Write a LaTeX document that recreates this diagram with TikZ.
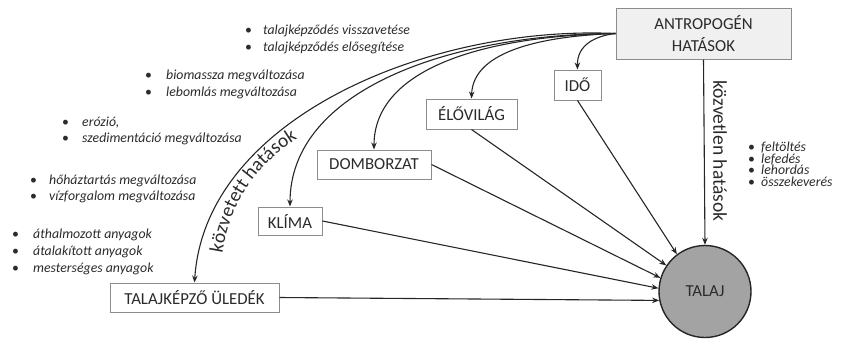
\documentclass[tikz,border=0pt]{standalone}
\usepackage{fontspec}
\setmainfont{Carlito}
\usetikzlibrary{arrows.meta,decorations.text}
\definecolor{txt}{HTML}{2B2B2B}
\definecolor{boxline}{HTML}{8C8C8C}
\definecolor{antrfill}{HTML}{F0F0F0}
\definecolor{talajfill}{HTML}{A3A3A3}
\newcommand\bitem[2][19pt]{\makebox[#1][l]{•}\textit{#2}}
\begin{document}
\begin{tikzpicture}[x=1pt,y=-1pt,
  box/.style={draw=boxline, line width=1pt, fill=white, inner sep=0pt,
    font=\fontsize{16.8}{22}\selectfont, text=txt, align=center},
  arr/.style={draw=black!85, line width=1.1pt, -{Stealth[length=7pt,width=5.5pt]}},
  lst/.style={anchor=base west, inner sep=0pt, text=txt, font=\fontsize{13.8}{15}\selectfont},
  biglabel/.style={inner sep=0pt, text=txt, font=\fontsize{19.5}{22}\selectfont}]
\useasboundingbox (0,0) rectangle (841,338);
% nodes
\node[box, fill=antrfill, minimum width=175pt, minimum height=51pt] (antr) at (703.5,33.5) {ANTROPOGÉN\\HATÁSOK};
\node[box, minimum width=47pt, minimum height=30pt] (ido) at (577.5,85) {IDŐ};
\node[box, minimum width=91pt, minimum height=30pt] (elo) at (471.5,114) {ÉLŐVILÁG};
\node[box, minimum width=114pt, minimum height=29pt] (dom) at (374,164.5) {DOMBORZAT};
\node[box, minimum width=64pt, minimum height=28pt] (klima) at (290,221) {KLÍMA};
\node[box, minimum width=169pt, minimum height=29pt] (uled) at (194.5,297.5) {TALAJKÉPZŐ ÜLEDÉK};
\node[circle, draw=black!85, line width=1.4pt, fill=talajfill, minimum size=92pt, inner sep=0pt,
  font=\fontsize{16.8}{20}\selectfont, text=txt] (talaj) at (705,291.5) {TALAJ};
% curved indirect arrows
\draw[arr] (antr.west) .. controls (595,36) and (577,45) .. (ido.north);
\draw[arr] (antr.west) .. controls (545,36) and (473,50) .. (elo.north);
\draw[arr] (antr.west) .. controls (480,36) and (374,70) .. (dom.north);
\draw[arr] (antr.west) .. controls (450,34) and (290,90) .. (klima.north);
\draw[arr] (antr.west) .. controls (430,25) and (205,118) .. (uled.north);
% straight arrows into TALAJ
\draw[arr] (antr.south) -- (talaj.north);
\draw[arr] (uled.east) -- (talaj.191);
\draw[arr] (klima.east) -- (talaj.176);
\draw[arr] (dom.east) -- (talaj.163);
\draw[arr] (elo.south) -- (talaj.146);
\draw[arr] (ido.south) -- (talaj.127);
% labels
\coordinate (kvA) at (221,263);
\coordinate (kvB) at (306,134);
\path[decorate, decoration={text along path, text align=center,
  text={|\fontsize{19.5}{22}\selectfont\color{txt}|közvetett hatások}}]
  (kvA) .. controls (228,200) and (260,160) .. (kvB);
\node[biglabel, rotate=-90] (kozvetlen) at (720,151) {közvetlen hatások};
% lists
\node[lst] (l1a) at (245,34) {\bitem[18pt]{talajképződés visszavetése}};
\node[lst] (l1b) at (245,51) {\bitem[18pt]{talajképződés elősegítése}};
\node[lst] (l2a) at (145,79) {\bitem[21pt]{biomassza megváltozása}};
\node[lst] (l2b) at (145,96) {\bitem[21pt]{lebomlás megváltozása}};
\node[lst] (l3a) at (62,126) {\bitem[20pt]{erózió,}};
\node[lst] (l3b) at (62,142) {\bitem[20pt]{szedimentáció megváltozása}};
\node[lst] (l4a) at (30,184) {\bitem[19pt]{hőháztartás megváltozása}};
\node[lst] (l4b) at (30,200) {\bitem[19pt]{vízforgalom megváltozása}};
\node[lst] (l5a) at (12,238) {\bitem[21pt]{áthalmozott anyagok}};
\node[lst] (l5b) at (12,255) {\bitem[21pt]{átalakított anyagok}};
\node[lst] (l5c) at (12,272) {\bitem[21pt]{mesterséges anyagok}};
\node[lst] (r1) at (748,151) {\bitem[13pt]{feltöltés}};
\node[lst] (r2) at (748,163) {\bitem[13pt]{lefedés}};
\node[lst] (r3) at (748,174.5) {\bitem[13pt]{lehordás}};
\node[lst] (r4) at (748,186) {\bitem[13pt]{összekeverés}};
\end{tikzpicture}
\end{document}
